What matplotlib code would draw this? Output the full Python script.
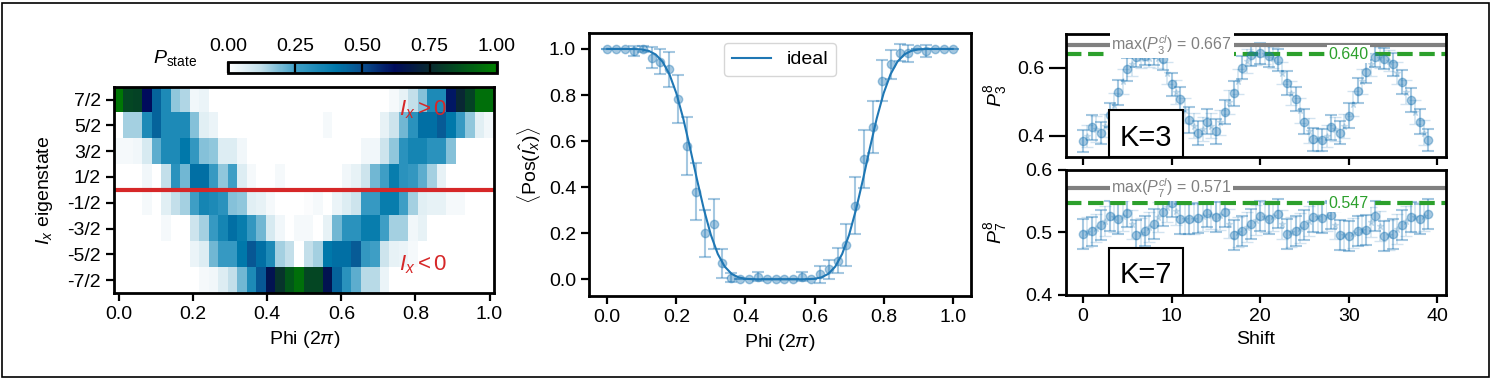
import numpy as np
import matplotlib
matplotlib.use("Agg")
import matplotlib.pyplot as plt
from matplotlib.colors import LinearSegmentedColormap
from matplotlib.patches import Rectangle


# ==========================================================
#   Datos
# ==========================================================

# panel izquierdo: poblaciones por autoestado (filas 7/2 ... -7/2), 40 valores de Phi
estados = ["7/2", "5/2", "3/2", "1/2", "-1/2", "-3/2", "-5/2", "-7/2"]
pob_72 = [0.97, 0.83, 0.82, 0.62, 0.45, 0.33, 0.17, 0.14, 0.03, 0.04] + [0.0] * 19 + \
         [0.02, 0.05, 0.12, 0.18, 0.33, 0.33, 0.60, 0.74, 0.82, 0.95, 0.95]
pob_52 = [0.0, 0.15, 0.15, 0.33, 0.45, 0.33, 0.33, 0.33, 0.18, 0.06, 0.04] + [0.0] * 11 + \
         [0.02] + [0.0] * 5 + [0.05, 0.10, 0.20, 0.30, 0.42, 0.42, 0.47, 0.40, 0.27, 0.17, 0.06, 0.03]
pob_32 = [0.02, 0.02, 0.03, 0.08, 0.22, 0.33, 0.33, 0.40, 0.28, 0.18, 0.17, 0.07, 0.07, 0.03] + \
         [0.0] * 12 + [0.03, 0.03, 0.10, 0.17, 0.30, 0.35, 0.35, 0.30, 0.30, 0.18] + [0.0] * 4
pob_12 = [0.0, 0.0, 0.0, 0.03, 0.0, 0.12, 0.30, 0.20, 0.42, 0.42, 0.27, 0.17, 0.25, 0.07, 0.02,
          0.0, 0.0, 0.02] + [0.0] * 6 + [0.03, 0.05, 0.10, 0.20, 0.25, 0.38, 0.30, 0.28, 0.22,
                                        0.15, 0.05] + [0.0] * 5
pob_m12 = [0.0, 0.0, 0.0, 0.02, 0.0, 0.06, 0.12, 0.15, 0.25, 0.35, 0.33, 0.30, 0.18, 0.17, 0.06,
           0.05, 0.02, 0.0, 0.0, 0.0, 0.01, 0.02, 0.0, 0.04, 0.07, 0.10, 0.27, 0.27, 0.38, 0.38,
           0.25, 0.15, 0.06, 0.05, 0.05, 0.02, 0.02, 0.0, 0.0, 0.0]
pob_m32 = [0.0] * 5 + [0.02, 0.0, 0.0, 0.10, 0.15, 0.27, 0.35, 0.42, 0.38, 0.28, 0.20, 0.08, 0.03,
                       0.0, 0.02, 0.02, 0.0, 0.05, 0.20, 0.30, 0.30, 0.38, 0.38, 0.25, 0.15, 0.15,
                       0.03, 0.05] + [0.0] * 7
pob_m52 = [0.0] * 8 + [0.04, 0.07, 0.20, 0.27, 0.27, 0.40, 0.48, 0.42, 0.33, 0.15, 0.12, 0.0,
                       0.12, 0.15, 0.40, 0.42, 0.42, 0.47, 0.28, 0.25, 0.10, 0.05, 0.04, 0.02] + [0.0] * 8
pob_m72 = [0.0] * 9 + [0.02, 0.03, 0.07, 0.12, 0.20, 0.33, 0.48, 0.65, 0.78, 0.88, 0.95, 0.83,
                       0.83, 0.65, 0.45, 0.30, 0.22, 0.13, 0.13, 0.04] + [0.0] * 11

# panel central: <Pos(Ix)> medido y curva ideal
pos_medido = [1.0, 1.0, 1.0, 0.99, 1.0, 0.962, 0.945, 0.912, 0.783, 0.58, 0.38, 0.20, 0.24, 0.069,
              0.007, 0.0, 0.0, 0.011, 0.0, 0.0, 0.0, 0.0, 0.011, 0.0, 0.022, 0.043, 0.08, 0.149,
              0.32, 0.521, 0.66, 0.862, 0.933, 0.984, 0.981, 1.0, 0.991, 1.0, 1.0, 1.0]
pos_error = [0.0, 0.0, 0.0, 0.022, 0.012, 0.045, 0.055, 0.075, 0.104, 0.126, 0.123, 0.103, 0.107,
             0.064, 0.02, 0.0, 0.0, 0.019, 0.0, 0.0, 0.0, 0.0, 0.02, 0.0, 0.036, 0.04, 0.054,
             0.091, 0.124, 0.126, 0.113, 0.088, 0.064, 0.036, 0.036, 0.0, 0.025, 0.0, 0.0, 0.0]
pos_ideal = [1.0, 1.0, 1.0, 1.0, 0.9996, 0.9977, 0.9916, 0.9763, 0.9448, 0.8901, 0.8075, 0.6979,
             0.5684, 0.4316, 0.3021, 0.1925, 0.1099, 0.0552, 0.0237, 0.0084, 0.0023, 0.0004, 0.0,
             0.0, 0.0, 0.0, 0.0, 0.0, 0.0, 0.0004, 0.0023, 0.0084, 0.0237, 0.0552, 0.1099, 0.1925,
             0.3021, 0.4316, 0.5684, 0.6979, 0.8075, 0.8901, 0.9448, 0.9763, 0.9916, 0.9977,
             0.9996, 1.0, 1.0, 1.0, 1.0]

# panel derecho: P_K^8 vs shift
p3 = [0.385, 0.425, 0.408, 0.461, 0.528, 0.595, 0.632, 0.635, 0.639, 0.625, 0.551, 0.508, 0.447,
      0.408, 0.442, 0.413, 0.469, 0.525, 0.600, 0.637, 0.642, 0.634, 0.622, 0.556, 0.508, 0.442,
      0.390, 0.388, 0.425, 0.410, 0.459, 0.533, 0.588, 0.632, 0.627, 0.610, 0.559, 0.505, 0.442,
      0.388]
p3_err = [0.032, 0.037, 0.033, 0.035, 0.036, 0.034, 0.030, 0.028, 0.030, 0.033, 0.035, 0.036,
          0.037, 0.036, 0.037, 0.036, 0.035, 0.036, 0.034, 0.031, 0.030, 0.031, 0.033, 0.035,
          0.036, 0.037, 0.034, 0.033, 0.036, 0.035, 0.037, 0.036, 0.034, 0.031, 0.031, 0.033,
          0.035, 0.036, 0.036, 0.032]
p3_b = [0.40, 0.42, 0.43, 0.49, 0.56, 0.61, 0.63, 0.63, 0.63, 0.585, 0.53, 0.475, 0.43, 0.42,
        0.43, 0.44, 0.50, 0.56, 0.62, 0.64, 0.64, 0.63, 0.585, 0.525, 0.475, 0.415, 0.39, 0.40,
        0.42, 0.43, 0.495, 0.56, 0.61, 0.63, 0.62, 0.585, 0.53, 0.47, 0.41]
p7 = [0.497, 0.502, 0.512, 0.526, 0.521, 0.531, 0.496, 0.502, 0.514, 0.533, 0.547, 0.521, 0.521,
      0.523, 0.531, 0.524, 0.532, 0.496, 0.503, 0.513, 0.526, 0.521, 0.530, 0.497, 0.502, 0.512,
      0.525, 0.523, 0.528, 0.496, 0.495, 0.503, 0.504, 0.527, 0.494, 0.497, 0.512, 0.525, 0.522,
      0.529]
p7_err = [0.024, 0.023, 0.024, 0.024, 0.024, 0.023, 0.024, 0.024, 0.024, 0.023, 0.022, 0.024,
          0.024, 0.024, 0.023, 0.024, 0.023, 0.024, 0.024, 0.024, 0.024, 0.024, 0.023, 0.024,
          0.024, 0.024, 0.024, 0.024, 0.023, 0.024, 0.024, 0.024, 0.024, 0.024, 0.024, 0.024,
          0.024, 0.024, 0.024, 0.024]
p7_b = [0.50, 0.507, 0.519, 0.524, 0.526, 0.513, 0.499, 0.508, 0.524, 0.54, 0.534, 0.521, 0.522,
        0.527, 0.528, 0.528, 0.514, 0.50, 0.508, 0.52, 0.524, 0.526, 0.513, 0.50, 0.507, 0.519,
        0.524, 0.526, 0.512, 0.496, 0.499, 0.504, 0.516, 0.51, 0.496, 0.505, 0.519, 0.524, 0.526]

p3_max, p3_obs = 0.667, 0.640
p7_max, p7_obs = 0.571, 0.547

W, H = 1491, 380

plt.rcParams["font.family"] = ["Liberation Sans", "DejaVu Sans"]
plt.rcParams["mathtext.fontset"] = "custom"
plt.rcParams["mathtext.rm"] = "Liberation Sans"
plt.rcParams["mathtext.it"] = "Liberation Sans:italic"
plt.rcParams["mathtext.bf"] = "Liberation Sans:bold"
plt.rcParams["font.size"] = 14
plt.rcParams["axes.linewidth"] = 2
for eje in ["xtick", "ytick"]:
    plt.rcParams[f"{eje}.major.width"] = 1.6
    plt.rcParams[f"{eje}.major.size"] = 6
    plt.rcParams[f"{eje}.labelsize"] = 14


def ejes_px(fig, x0, y0, x1, y1):
    """Crea ejes a partir de coordenadas en píxeles (origen arriba a la izquierda)."""
    return fig.add_axes([x0 / W, 1 - y1 / H, (x1 - x0) / W, (y1 - y0) / H])


fig = plt.figure(figsize=(W / 100, H / 100), dpi=100)

# ==========================================================
#   Mapa de poblaciones
# ==========================================================

cmap = LinearSegmentedColormap.from_list("pstate", [
    (0.0, "#ffffff"), (0.12, "#c2dfea"), (0.25, "#3f9fc6"), (0.40, "#0078aa"),
    (0.50, "#0a4f8e"), (0.62, "#000c5c"), (0.75, "#0a2a32"), (0.86, "#02501e"),
    (1.0, "#008000")])

poblaciones = np.array([pob_72, pob_52, pob_32, pob_12, pob_m12, pob_m32, pob_m52, pob_m72])
n_phi = poblaciones.shape[1]
paso = 1 / (n_phi - 1)

ax1 = ejes_px(fig, 114.3, 86.7, 494.3, 293)
im = ax1.imshow(poblaciones, cmap=cmap, vmin=0, vmax=1, aspect="auto", interpolation="nearest",
                extent=[-paso / 2, 1 + paso / 2, -4, 4], origin="upper")
ax1.axhline(0, color="tab:red", lw=3)
ax1.set_yticks(np.arange(3.5, -4, -1))
ax1.set_yticklabels(estados)
ax1.set_xticks(np.arange(0, 1.01, 0.2))
ax1.set_xlabel(r"Phi (2$\pi$)")
ax1.set_ylabel(r"$I_x$ eigenstate", labelpad=9)
ax1.text(0.755, 3.12, r"$I_x > 0$", color="tab:red", fontsize=16, va="center", ha="left")
ax1.text(0.755, -2.9, r"$I_x < 0$", color="tab:red", fontsize=16, va="center", ha="left")

cax = ejes_px(fig, 228, 62.3, 496.7, 73.3)
cbar = fig.colorbar(im, cax=cax, orientation="horizontal")
cbar.set_ticks([0, 0.25, 0.5, 0.75, 1.0])
cbar.ax.xaxis.set_ticks_position("top")
cbar.ax.tick_params(direction="in", length=8, width=1.6, pad=5)
cbar.outline.set_linewidth(2)
fig.text(153 / W, 1 - 58 / H, r"$P_{\mathrm{state}}$", fontsize=14, va="center", ha="left")

# ==========================================================
#   Valor medio de Pos(Ix)
# ==========================================================

phi = np.linspace(0, 1, n_phi)
phi_ideal = np.linspace(0, 1, len(pos_ideal))

ax2 = ejes_px(fig, 589.3, 33.3, 971, 296)
ax2.errorbar(phi, pos_medido, yerr=pos_error, fmt="o", color="tab:blue", alpha=0.4,
             ms=6, capsize=4, elinewidth=1.5, capthick=1.5)
ax2.plot(phi_ideal, pos_ideal, color="tab:blue", lw=1.5, label="ideal")
ax2.set_xlim(-0.052, 1.053)
ax2.set_ylim(-0.0725, 1.068)
ax2.set_xticks(np.arange(0, 1.01, 0.2))
ax2.set_yticks(np.arange(0, 1.01, 0.2))
ax2.set_xlabel(r"Phi (2$\pi$)")
ax2.set_ylabel(r"$\langle\mathrm{Pos}(\hat{I_x})\rangle$")
ax2.legend(loc="upper center", fontsize=14, handlelength=2.0, borderpad=0.4)

# ==========================================================
#   P_K^8 vs shift
# ==========================================================

def panel_shift(ax, valores, errores, valores_b, p_max, p_obs, k, y_texto):
    shifts = np.arange(len(valores))
    shifts_b = np.arange(len(valores_b)) + 0.5
    ax.errorbar(shifts_b, valores_b, yerr=errores[:len(valores_b)], fmt="*", color="tab:blue",
                alpha=0.2, ms=5, capsize=4, elinewidth=1.2)
    ax.errorbar(shifts, valores, yerr=errores, fmt="o", color="tab:blue", alpha=0.4,
                ms=6, capsize=4, elinewidth=1.5, capthick=1.5)
    ax.axhline(p_max, color="gray", lw=3)
    ax.axhline(p_obs, color="tab:green", lw=3, ls="--")
    caja = dict(boxstyle="square,pad=0.1", fc="white", ec="none")
    ax.text(10, p_max, rf"max($P_{k}^{{cl}}$) = {p_max:.3f}", color="gray", fontsize=11.5,
            ha="center", va="center", bbox=caja, zorder=5)
    ax.text(30, p_obs, f"{p_obs:.3f}", color="tab:green", fontsize=11.5,
            ha="center", va="center", bbox=caja, zorder=5)
    # recuadro K=...
    ax.add_patch(Rectangle((0.114, 0.0), 0.195, 0.378, transform=ax.transAxes, fc="white",
                           ec="black", lw=1.5, zorder=6, clip_on=False))
    ax.text(0.2115, y_texto, f"K={k}", transform=ax.transAxes, fontsize=21, ha="center",
            va="baseline", zorder=7)
    ax.set_xlim(-1.95, 40.95)
    ax.set_xticks(np.arange(0, 41, 10))
    ax.set_ylabel(rf"$P_{k}^8$")


ax3 = ejes_px(fig, 1065.7, 34, 1445.7, 156.7)
panel_shift(ax3, p3, p3_err, p3_b, p3_max, p3_obs, 3, 0.085)
ax3.set_ylim(0.339, 0.699)
ax3.set_yticks([0.4, 0.6])
ax3.tick_params(labelbottom=False)
ax3.tick_params(axis="y", length=12)

ax4 = ejes_px(fig, 1065.7, 170, 1445.7, 295)
panel_shift(ax4, p7, p7_err, p7_b, p7_max, p7_obs, 7, 0.095)
ax4.set_ylim(0.4, 0.6)
ax4.set_yticks([0.4, 0.5, 0.6])
ax4.set_xlabel("Shift")

for ax in [ax3, ax4]:
    ax.yaxis.set_label_coords(-0.15, 0.5)

fig.patches.append(Rectangle((1.5 / W, 3 / H), (W - 4) / W, (H - 6) / H, transform=fig.transFigure,
                             fill=False, ec="black", lw=1.2))

fig.savefig("out.png", dpi=100)
